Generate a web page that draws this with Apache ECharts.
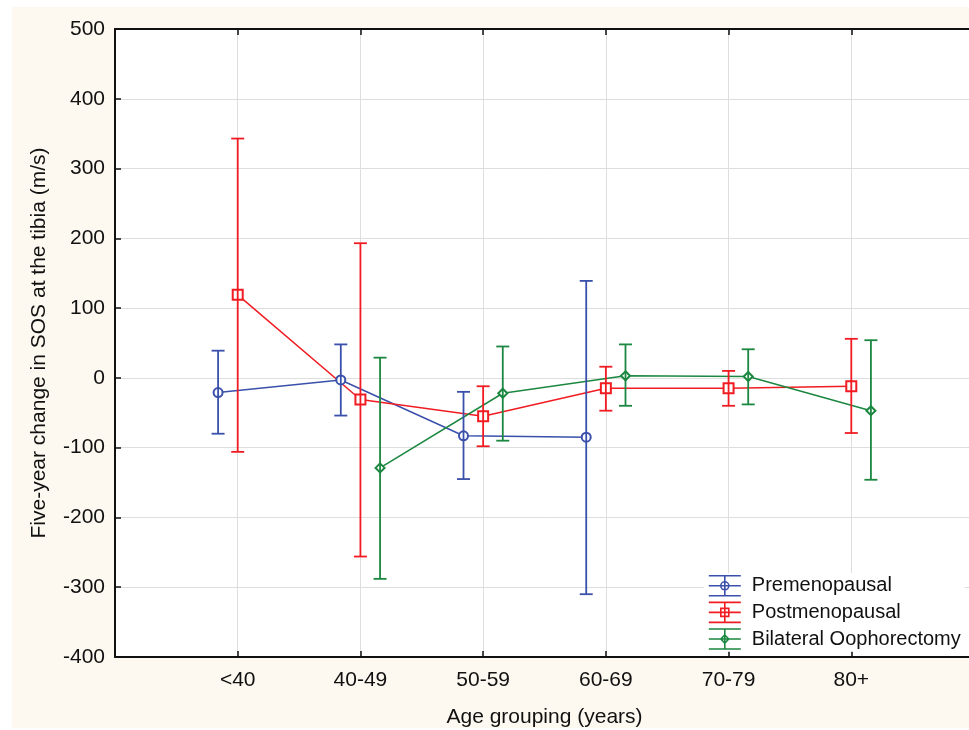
<!DOCTYPE html>
<html>
<head>
<meta charset="utf-8">
<script src="https://cdn.jsdelivr.net/npm/echarts@6/dist/echarts.min.js"></script>
<style>
  html, body { margin: 0; padding: 0; background: #ffffff; overflow: hidden; }
  #chart {
    position: absolute;
    left: 12px;
    top: 7px;
    width: 972px;
    height: 721px;
    background: #fdf9f0;
  }
</style>
</head>
<body>
<div id="chart"></div>
<script>
// age groups on the x axis
var ageGroups = ['<40', '40-49', '50-59', '60-69', '70-79', '80+'];

// five-year change in SOS (m/s): mean and error bar ends, per group
var preMean  = [-21, -3, -83, -85, null, null];
var preLow   = [-80, -54, -145, -310, null, null];
var preHigh  = [39, 48, -20, 139, null, null];

var postMean = [119, -31, -55, -15, -15, -12];
var postLow  = [-106, -256, -98, -47, -40, -79];
var postHigh = [343, 193, -12, 16, 10, 56];

var bilMean  = [null, -129, -22, 3, 2, -47];
var bilLow   = [null, -288, -90, -40, -38, -146];
var bilHigh  = [null, 29, 45, 48, 41, 54];

var yTicks = [-400, -300, -200, -100, 0, 100, 200, 300, 400, 500];

var blue = '#3a50ab';
var red = '#f01c22';
var green = '#1b8740';
var font = 'Liberation Sans, Arial, sans-serif';

// small horizontal shift so the groups don't sit on top of each other
var shift = { pre: -0.16, post: 0, bil: 0.16 };

function meanPoints(means, dx) {
    var out = [];
    means.forEach(function (m, i) {
        if (m !== null) out.push([i + 1 + dx, m]);
    });
    return out;
}

function barPoints(lows, highs, dx) {
    var out = [];
    lows.forEach(function (lo, i) {
        if (lo !== null) out.push([i + 1 + dx, lo, highs[i]]);
    });
    return out;
}

function errRender(params, api) {
    var x = api.value(0);
    var lo = api.coord([x, api.value(1)]);
    var hi = api.coord([x, api.value(2)]);
    var w = 6.5;
    var st = { stroke: api.visual('color'), lineWidth: 1.8 };
    return {
        type: 'group',
        children: [
            { type: 'line', shape: { x1: hi[0], y1: hi[1], x2: lo[0], y2: lo[1] }, style: st },
            { type: 'line', shape: { x1: hi[0] - w, y1: hi[1], x2: hi[0] + w, y2: hi[1] }, style: st },
            { type: 'line', shape: { x1: lo[0] - w, y1: lo[1], x2: lo[0] + w, y2: lo[1] }, style: st }
        ]
    };
}

// legend icons: error bar with marker, 32 x 20 drawn inside a 38 wide box
var barBase = 'M38,0M0,0L32,0M0,10L32,10M0,20L32,20M16,0L16,20';
var iconPre = 'path://' + barBase + 'M12,10A4,4,0,1,0,20,10A4,4,0,1,0,12,10';
var iconPost = 'path://' + barBase + 'M12,6L20,6L20,14L12,14Z';
var iconBil = 'path://' + barBase + 'M16,6L20,10L16,14L12,10Z';

function lineSeries(name, data, color, symbol, size) {
    return {
        name: name,
        type: 'line',
        data: data,
        symbol: symbol,
        symbolSize: size,
        itemStyle: { color: color, borderWidth: 1.6 },
        lineStyle: { color: color, width: 1.5 },
        z: 3,
        animation: false
    };
}

function barSeries(data, color) {
    return {
        type: 'custom',
        renderItem: errRender,
        data: data,
        itemStyle: { color: color },
        encode: { x: 0, y: [1, 2] },
        z: 4,
        animation: false
    };
}

var chart = echarts.init(document.getElementById('chart'));
chart.setOption({
    animation: false,
    grid: {
        left: 103,
        top: 22,
        right: 10,
        bottom: 71,
        outerBoundsMode: 'none',
        show: true,
        backgroundColor: '#ffffff',
        borderWidth: 0
    },
    legend: {
        orient: 'vertical',
        left: 692,
        top: 566,
        padding: [2, 4],
        backgroundColor: '#ffffff',
        itemWidth: 38,
        itemHeight: 20,
        itemGap: 5,
        textStyle: { fontSize: 20, color: '#111', fontFamily: font },
        data: [
            { name: 'Premenopausal', icon: iconPre, itemStyle: { color: 'rgba(0,0,0,0)', borderColor: blue, borderWidth: 1.6 } },
            { name: 'Postmenopausal', icon: iconPost, itemStyle: { color: 'rgba(0,0,0,0)', borderColor: red, borderWidth: 1.6 } },
            { name: 'Bilateral Oophorectomy', icon: iconBil, itemStyle: { color: 'rgba(0,0,0,0)', borderColor: green, borderWidth: 1.6 } }
        ]
    },
    xAxis: [
        {
            type: 'value',
            min: 0,
            max: 7,
            interval: 1,
            name: 'Age grouping (years)',
            nameLocation: 'middle',
            nameGap: 50,
            nameTextStyle: { fontSize: 21, color: '#111', fontFamily: font },
            axisLine: { show: true, onZero: false, lineStyle: { color: '#111', width: 2 } },
            axisTick: { show: true, inside: true, length: 6, lineStyle: { color: '#111', width: 1.5 } },
            axisLabel: {
                fontSize: 21,
                color: '#111',
                fontFamily: font,
                margin: 13,
                formatter: function (v) { return ageGroups[v - 1] || ''; }
            },
            splitLine: { show: true, lineStyle: { color: '#dedede', width: 1 } }
        },
        {
            type: 'value',
            position: 'top',
            min: 0,
            max: 7,
            interval: 1,
            axisLine: { show: true, onZero: false, lineStyle: { color: '#111', width: 2 } },
            axisTick: { show: true, inside: true, length: 6, lineStyle: { color: '#111', width: 1.5 } },
            axisLabel: { show: false },
            splitLine: { show: false }
        }
    ],
    yAxis: {
        type: 'value',
        min: yTicks[0],
        max: yTicks[yTicks.length - 1],
        interval: 100,
        name: 'Five-year change in SOS at the tibia (m/s)',
        nameLocation: 'middle',
        nameGap: 65,
        nameTextStyle: { fontSize: 21, color: '#111', fontFamily: font },
        axisLine: { show: true, onZero: false, lineStyle: { color: '#111', width: 2 } },
        axisTick: { show: true, inside: true, length: 6, lineStyle: { color: '#111', width: 1.5 } },
        axisLabel: { fontSize: 21, color: '#111', fontFamily: font, margin: 10 },
        splitLine: { show: true, lineStyle: { color: '#dedede', width: 1 } }
    },
    series: [
        lineSeries('Premenopausal', meanPoints(preMean, shift.pre), blue, 'emptyCircle', 9),
        lineSeries('Postmenopausal', meanPoints(postMean, shift.post), red, 'emptyRect', 10),
        lineSeries('Bilateral Oophorectomy', meanPoints(bilMean, shift.bil), green, 'emptyDiamond', 9),
        barSeries(barPoints(preLow, preHigh, shift.pre), blue),
        barSeries(barPoints(postLow, postHigh, shift.post), red),
        barSeries(barPoints(bilLow, bilHigh, shift.bil), green)
    ]
});
</script>
</body>
</html>
